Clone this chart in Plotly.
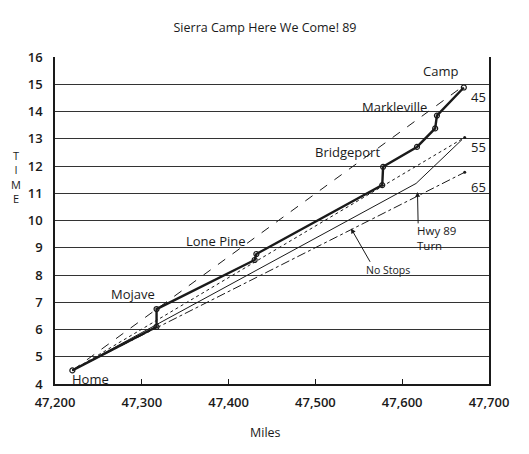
import plotly.graph_objects as go

# trip log: odometer miles vs clock time (hours)
route_miles = [47220, 47317, 47317, 47430, 47432, 47577, 47578, 47617, 47638, 47640, 47671]
route_time = [4.5, 6.1, 6.75, 8.55, 8.77, 11.3, 11.97, 12.7, 13.38, 13.85, 14.88]

# reference speed lines (45, 55, 65 mph) from home to camp
speed_labels = ["45", "55", "65"]
speed_miles = [[47220, 47669], [47220, 47672], [47220, 47672]]
speed_time = [[4.5, 14.9], [4.5, 13.05], [4.5, 11.77]]

# no-stops line with the Hwy 89 turn
nostop_miles = [47220, 47616, 47669]
nostop_time = [4.5, 11.36, 12.97]

place_names = ["Home", "Mojave", "Lone Pine", "Bridgeport", "Markleville", "Camp"]
place_miles = [47241, 47290, 47386, 47537, 47591, 47644]
place_time = [4.18, 7.3, 9.25, 12.52, 14.17, 15.48]

x_ticks = [47200, 47300, 47400, 47500, 47600, 47700]
y_ticks = list(range(4, 17))
grid_hours = list(range(5, 16))

FONT = "Open Sans"
INK = "#1a1a1a"

# page body adds an 8px offset, so the figure is drawn 8px smaller
W, H = 521, 446

fig = go.Figure()

dash_styles = {"45": "dash", "55": "dot", "65": "dashdot"}
for lab, mx, ty in zip(speed_labels, speed_miles, speed_time):
    fig.add_trace(go.Scatter(
        x=mx, y=ty, mode="lines",
        line=dict(color=INK, width=1, dash=dash_styles[lab]),
        showlegend=False, hoverinfo="skip",
    ))

# end dots on the 55 and 65 lines
fig.add_trace(go.Scatter(
    x=[speed_miles[1][1], speed_miles[2][1]],
    y=[speed_time[1][1], speed_time[2][1]],
    mode="markers", marker=dict(color=INK, size=3),
    showlegend=False, hoverinfo="skip",
))

fig.add_trace(go.Scatter(
    x=nostop_miles, y=nostop_time, mode="lines",
    line=dict(color=INK, width=1),
    showlegend=False, hoverinfo="skip",
))

fig.add_trace(go.Scatter(
    x=route_miles, y=route_time, mode="lines+markers",
    line=dict(color=INK, width=2.4),
    marker=dict(symbol="circle-open", size=5, color=INK, line=dict(width=1.2)),
    showlegend=False, hoverinfo="skip",
))

# hidden overlay axis only for the hour grid (no line at 16)
fig.add_trace(go.Scatter(x=[47200], y=[4], yaxis="y2", mode="markers",
                         marker=dict(opacity=0), showlegend=False, hoverinfo="skip"))

annots = []
for name, mx, ty in zip(place_names, place_miles, place_time):
    annots.append(dict(x=mx, y=ty, text=name, showarrow=False,
                       font=dict(size=13, family=FONT, color=INK)))

speed_label_time = [14.53, 12.68, 11.24]
for lab, ty in zip(speed_labels, speed_label_time):
    annots.append(dict(x=47688, y=ty, text=lab, showarrow=False,
                       font=dict(size=13, family=FONT, color=INK)))

annots += [
    dict(x=47615, y=9.36, text="Hwy 89<br>Turn", showarrow=False, xanchor="left",
         align="left", font=dict(size=11.5, family=FONT, color=INK)),
    dict(x=47617.6, y=11.05, ax=47618.4, ay=9.84, axref="x", ayref="y",
         text="", showarrow=True, arrowhead=2, arrowsize=1, arrowwidth=1, arrowcolor=INK),
    dict(x=47584, y=8.19, text="No Stops", showarrow=False,
         font=dict(size=10.5, family=FONT, color=INK)),
    dict(x=47541, y=9.71, ax=47564, ay=8.43, axref="x", ayref="y",
         text="", showarrow=True, arrowhead=2, arrowsize=1, arrowwidth=1, arrowcolor=INK),
    dict(x=0.486, y=-0.147, xref="paper", yref="paper", text="Miles", showarrow=False,
         xanchor="center", yanchor="middle",
         font=dict(size=12.5, family=FONT, color=INK)),
    dict(x=-0.09, y=0.633, xref="paper", yref="paper", text="T<br>I<br>M<br>E",
         xanchor="center", yanchor="middle",
         showarrow=False, align="center", font=dict(size=11, family=FONT, color=INK)),
]

fig.update_layout(
    width=W, height=H,
    margin=dict(l=47, r=40, t=49, b=70),
    paper_bgcolor="white", plot_bgcolor="white",
    font=dict(family=FONT, color=INK),
    title=dict(text="Sierra Camp Here We Come! 89", x=(265 - 8) / W, xanchor="center",
               y=1 - 20 / H, yanchor="middle", font=dict(size=12.5, family=FONT, color=INK)),
    xaxis=dict(
        range=[47200, 47700], tickvals=x_ticks, tickformat=",d",
        showgrid=False, zeroline=False,
        showline=True, linecolor=INK, linewidth=1.5,
        ticks="inside", ticklen=5, tickcolor=INK, ticklabelstandoff=6,
        tickfont=dict(size=13, family=FONT, color=INK, weight=600),
    ),
    yaxis=dict(
        range=[4, 16], tickvals=y_ticks,
        showgrid=False, zeroline=False,
        showline=True, mirror=True, linecolor=INK, linewidth=1.5,
        ticks="", ticklabelstandoff=8,
        tickfont=dict(size=13, family=FONT, color=INK, weight=600),
    ),
    yaxis2=dict(
        overlaying="y", range=[4, 16], tickvals=grid_hours,
        showgrid=True, gridcolor="#333333", gridwidth=1.3,
        showticklabels=False, zeroline=False, showline=False, ticks="",
    ),
    annotations=annots,
)

fig.write_html("out.html")
